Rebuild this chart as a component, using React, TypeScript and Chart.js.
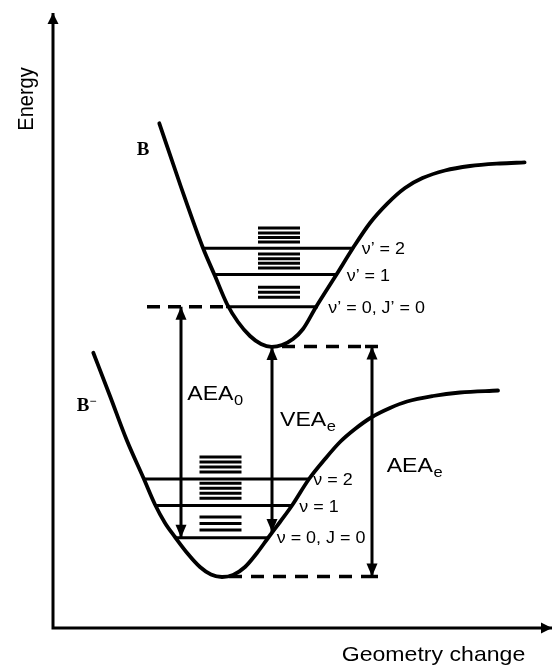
import React, { useEffect, useRef } from "react";
import { Chart, registerables } from "chart.js";

Chart.register(...registerables);

// ---- Data (arbitrary units: geometry on x, energy on y) ----
const X_MAX = 99.8;
const Y_MAX = 123;

// Potential curve of the neutral B
const neutralCurveX = [21.26, 25.6, 30.0, 32.4, 34.8, 37.0, 39.4, 41.6, 43.74, 45.8, 48.0, 50.0, 52.6, 56.7, 60.0, 63.4, 66.86, 70.4, 73.9, 78.4, 83.4, 89.4, 94.32];
const neutralCurveY = [100.94, 88.2, 76.0, 70.4, 64.8, 61.2, 58.4, 56.8, 56.24, 56.6, 57.8, 59.8, 64.2, 70.7, 76.0, 81.0, 84.88, 88.0, 89.98, 91.5, 92.4, 92.9, 93.12];

// Potential curve of the anion B-
const anionCurveX = [8.06, 11.4, 14.74, 18.14, 20.4, 22.4, 24.4, 27.0, 29.4, 31.6, 33.8, 36.0, 38.4, 40.8, 43.0, 45.4, 47.8, 51.2, 54.4, 57.4, 60.4, 63.8, 67.4, 70.8, 76.0, 81.4, 89.0];
const anionCurveY = [55.06, 46.4, 37.6, 29.9, 24.7, 21.0, 18.2, 14.8, 12.2, 10.7, 10.2, 10.6, 12.2, 15.0, 18.0, 21.2, 24.5, 29.8, 33.8, 37.2, 39.8, 42.2, 44.0, 45.3, 46.4, 47.1, 47.5];

// Vibrational levels (v'=2,1,0 and v=2,1,0)
const neutralLevelY = [75.94, 70.7, 64.26];
const neutralLevelX0 = [30.0, 32.4, 34.6];
const neutralLevelX1 = [60.0, 56.8, 53.0];
const neutralLevelLabels = ["\u03BD\u2019 = 2", "\u03BD\u2019 = 1", "\u03BD\u2019 = 0, J\u2019 = 0"];
const neutralZeroDashX = [18.8, 34.6];

const anionLevelY = [29.8, 24.5, 18.06];
const anionLevelX0 = [18.1, 20.3, 24.4];
const anionLevelX1 = [51.2, 47.8, 43.0];
const anionLevelLabels = ["\u03BD = 2", "\u03BD = 1", "\u03BD = 0, J = 0"];

// Rotational sub-levels (stacked short lines)
const neutralRotY = [80.0, 79.0, 78.1, 77.2, 74.8, 73.86, 72.94, 72.0, 68.14, 67.14, 66.14];
const neutralRotX = [41.0, 49.4];
const anionRotY = [34.2, 33.2, 32.2, 31.2, 28.94, 27.94, 26.94, 25.94, 22.2, 20.9, 19.6];
const anionRotX = [29.3, 37.7];

// Energy arrows: AEA0, VEAe, AEAe
const arrowNames = ["AEA", "VEA", "AEA"];
const arrowSubs = ["0", "e", "e"];
const arrowX = [25.6, 43.8, 63.8];
const arrowTop = [64.26, 56.2, 56.3];
const arrowBottom = [18.06, 19.2, 10.3];

// Dashed reference lines (minimum of B, minimum of B-)
const refDashY = [56.3, 10.3];
const refDashX0 = [45.8, 35.2];
const refDashX1 = [62.4, 62.4];
const capX = [62.4, 65.0];

// ---- Label placement (data units) ----
const SANS = '"Liberation Sans", Arial, Helvetica, sans-serif';
const SERIF = '"Liberation Serif", "Times New Roman", serif';

type TextItem = {
  text: string;
  x: number;
  y: number;
  font: string;
  sx?: number;
  align?: CanvasTextAlign;
  rotate?: number;
  sub?: string;
  subFont?: string;
  subDrop?: number;
};

const neutralLabelX = [61.74, 58.74, 55.06];
const neutralLabelY = [74.8, 69.46, 63.1];
const anionLabelX = [52.06, 49.26, 44.74];
const anionLabelY = [28.6, 23.26, 17.0];
const arrowLabelX = [26.86, 45.4, 66.74];
const arrowLabelY = [45.6, 40.4, 31.26];

const texts: TextItem[] = [
  { text: "Energy", x: -3.94, y: 105.8, font: `20px ${SANS}`, sx: 1.12, align: "center", rotate: -Math.PI / 2 },
  { text: "Geometry change", x: 57.74, y: -6.54, font: `21px ${SANS}`, sx: 1.1 },
  { text: "B", x: 16.74, y: 94.6, font: `bold 18px ${SERIF}`, sx: 1.05 },
  { text: "B", x: 4.74, y: 43.4, font: `bold 18px ${SERIF}`, sx: 1.05, sub: "\u2212", subFont: `bold 12px ${SERIF}`, subDrop: -6 },
  ...neutralLevelLabels.map((t, i) => ({ text: t, x: neutralLabelX[i], y: neutralLabelY[i], font: `16px ${SANS}`, sx: 1.12 })),
  ...anionLevelLabels.map((t, i) => ({ text: t, x: anionLabelX[i], y: anionLabelY[i], font: `16px ${SANS}`, sx: 1.12 })),
  ...arrowNames.map((t, i) => ({
    text: t,
    x: arrowLabelX[i],
    y: arrowLabelY[i],
    font: `21px ${SANS}`,
    sx: 1.1,
    sub: arrowSubs[i],
    subFont: `15px ${SANS}`,
    subDrop: 5,
  })),
];

// ---- Helpers ----
const BLACK = "#000000";

function segment(x0: number, y0: number, x1: number, y1: number, extra: any = {}) {
  return {
    data: [
      { x: x0, y: y0 },
      { x: x1, y: y1 },
    ],
    borderColor: BLACK,
    borderWidth: 3,
    pointRadius: 0,
    tension: 0,
    clip: false,
    ...extra,
  };
}

function curve(xs: number[], ys: number[]) {
  return {
    data: xs.map((x, i) => ({ x, y: ys[i] })),
    borderColor: BLACK,
    borderWidth: 3.8,
    pointRadius: 0,
    cubicInterpolationMode: "monotone",
    borderCapStyle: "round",
    clip: false,
  };
}

const arrowPlugin = {
  id: "arrowHeads",
  afterDatasetsDraw(chart: any) {
    const ctx = chart.ctx;
    chart.data.datasets.forEach((ds: any, i: number) => {
      if (!ds.arrows) return;
      const pts = chart.getDatasetMeta(i).data;
      if (pts.length < 2) return;
      const len = ds.arrowLen || 12;
      const half = ds.arrowHalf || 5;
      const head = (tip: any, from: any) => {
        const a = Math.atan2(tip.y - from.y, tip.x - from.x);
        const bx = tip.x - len * Math.cos(a);
        const by = tip.y - len * Math.sin(a);
        ctx.beginPath();
        ctx.moveTo(tip.x, tip.y);
        ctx.lineTo(bx - half * Math.sin(a), by + half * Math.cos(a));
        ctx.lineTo(bx + half * Math.sin(a), by - half * Math.cos(a));
        ctx.closePath();
        ctx.fill();
      };
      ctx.save();
      ctx.fillStyle = BLACK;
      if (ds.arrows === "both" || ds.arrows === "start") head(pts[0], pts[1]);
      if (ds.arrows === "both" || ds.arrows === "end") head(pts[pts.length - 1], pts[pts.length - 2]);
      ctx.restore();
    });
  },
};

const textPlugin = {
  id: "diagramText",
  afterDraw(chart: any) {
    const ctx = chart.ctx;
    const xs = chart.scales.x;
    const ys = chart.scales.y;
    texts.forEach((t) => {
      const px = xs.getPixelForValue(t.x);
      const py = ys.getPixelForValue(t.y);
      ctx.save();
      ctx.translate(px, py);
      ctx.scale(t.sx || 1, 1);
      if (t.rotate) ctx.rotate(t.rotate);
      ctx.fillStyle = BLACK;
      ctx.font = t.font;
      ctx.textAlign = t.align || "left";
      ctx.textBaseline = "alphabetic";
      ctx.fillText(t.text, 0, 0);
      if (t.sub) {
        const w = ctx.measureText(t.text).width;
        ctx.font = t.subFont || t.font;
        ctx.textAlign = "left";
        ctx.fillText(t.sub, w + 0.5, t.subDrop || 0);
      }
      ctx.restore();
    });
  },
};

function buildDatasets() {
  const ds: any[] = [];
  // axes
  ds.push({
    data: [
      { x: 0, y: Y_MAX },
      { x: 0, y: 0 },
      { x: X_MAX, y: 0 },
    ],
    borderColor: BLACK,
    borderWidth: 3,
    borderJoinStyle: "miter",
    pointRadius: 0,
    tension: 0,
    clip: false,
    arrows: "both",
    arrowLen: 11,
    arrowHalf: 5.5,
  });
  // curves
  ds.push(curve(neutralCurveX, neutralCurveY));
  ds.push(curve(anionCurveX, anionCurveY));
  // vibrational levels
  neutralLevelY.forEach((y, i) => ds.push(segment(neutralLevelX0[i], y, neutralLevelX1[i], y)));
  anionLevelY.forEach((y, i) => ds.push(segment(anionLevelX0[i], y, anionLevelX1[i], y)));
  ds.push(segment(neutralZeroDashX[0], neutralLevelY[2], neutralZeroDashX[1], neutralLevelY[2], { borderDash: [13, 8], borderWidth: 3.5 }));
  // rotational stacks
  neutralRotY.forEach((y) => ds.push(segment(neutralRotX[0], y, neutralRotX[1], y, { borderWidth: 3 })));
  anionRotY.forEach((y) => ds.push(segment(anionRotX[0], y, anionRotX[1], y, { borderWidth: 3 })));
  // reference dashed lines and caps
  refDashY.forEach((y, i) => {
    ds.push(segment(refDashX0[i], y, refDashX1[i], y, { borderDash: [13, 9], borderWidth: 3.5 }));
    ds.push(segment(capX[0], y, capX[1], y, { borderWidth: 3.5 }));
  });
  // energy arrows
  arrowX.forEach((x, i) => ds.push(segment(x, arrowTop[i], x, arrowBottom[i], { arrows: "both", arrowLen: 13, arrowHalf: 5.5 })));
  return ds;
}

export default function App() {
  const canvasRef = useRef<HTMLCanvasElement | null>(null);

  useEffect(() => {
    const canvas = canvasRef.current;
    if (!canvas) return;
    const chart = new Chart(canvas, {
      type: "line",
      data: { datasets: buildDatasets() },
      options: {
        animation: false,
        responsive: false,
        devicePixelRatio: 1,
        events: [],
        layout: { padding: { left: 53, right: 0, top: 13, bottom: 37 } },
        scales: {
          x: { type: "linear", min: 0, max: X_MAX, display: false },
          y: { type: "linear", min: 0, max: Y_MAX, display: false },
        },
        plugins: {
          legend: { display: false },
          tooltip: { enabled: false },
          title: { display: false },
        },
      } as any,
      plugins: [arrowPlugin, textPlugin],
    });
    return () => chart.destroy();
  }, []);

  return (
    <div style={{ position: "fixed", left: 0, top: 0, width: 552, height: 665, background: "#fff" }}>
      <canvas ref={canvasRef} width={552} height={665} style={{ display: "block", width: 552, height: 665 }} />
    </div>
  );
}
